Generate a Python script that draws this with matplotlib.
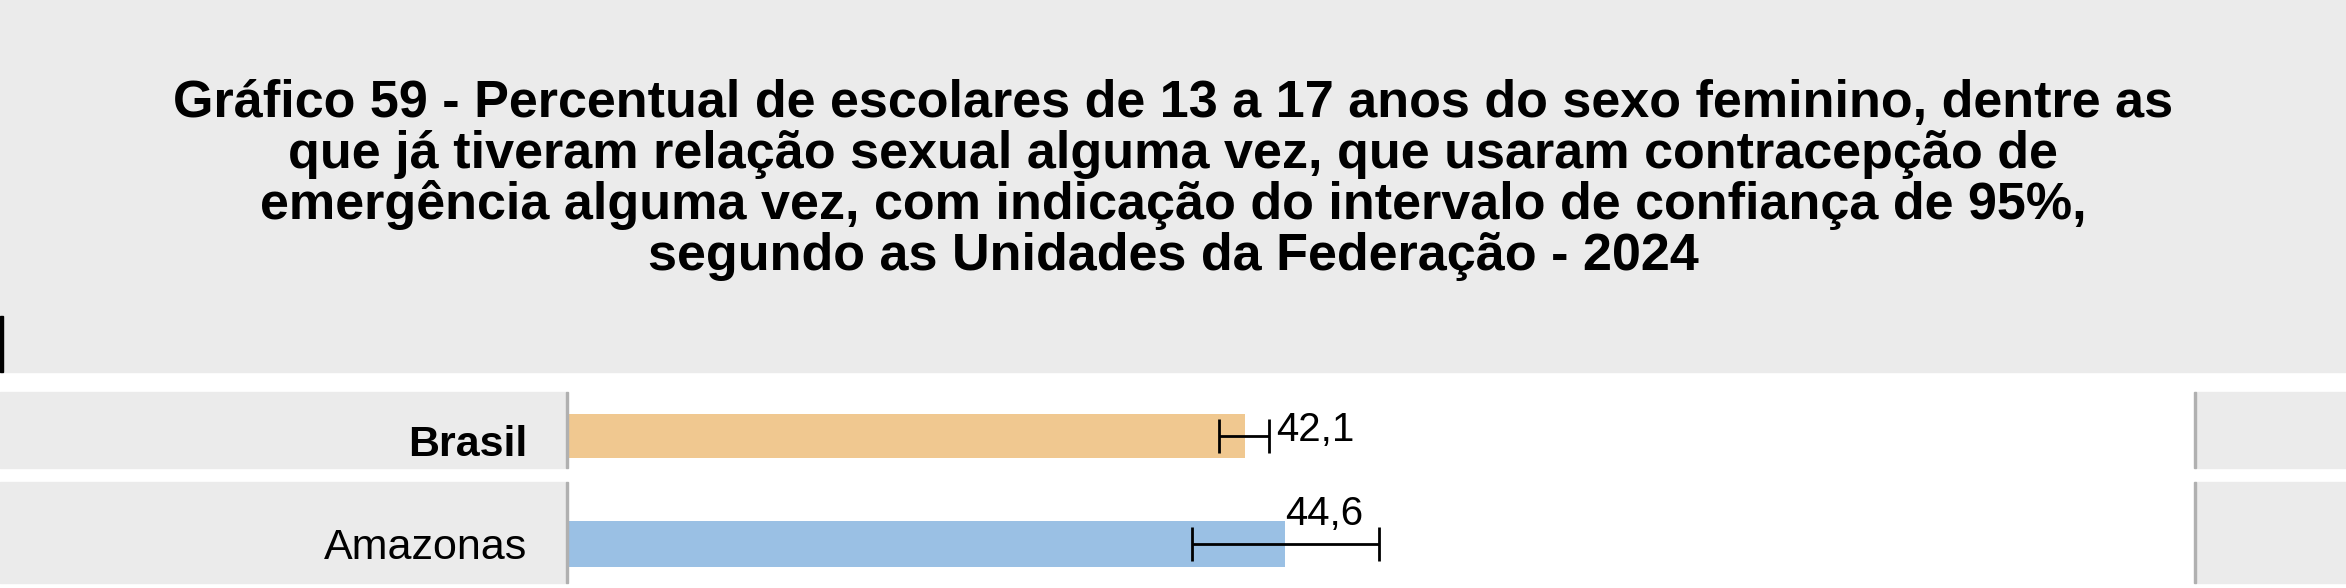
import matplotlib.pyplot as plt
from matplotlib.patches import Rectangle

W, H = 2346, 588

title = ("Gráfico 59 - Percentual de escolares de 13 a 17 anos do sexo feminino, dentre as\n"
         "que já tiveram relação sexual alguma vez, que usaram contracepção de\n"
         "emergência alguma vez, com indicação do intervalo de confiança de 95%,\n"
         "segundo as Unidades da Federação - 2024")
categories = ["Brasil", "Amazonas"]
values = [42.1, 44.6]
ci_low = [40.5, 38.8]
ci_high = [43.6, 50.4]
colors = ["#f0c890", "#9ac0e4"]
label_text = ["42,1", "44,6"]

fig = plt.figure(figsize=(W / 100, H / 100), dpi=100)
fig.patch.set_facecolor("white")

def px_rect(x0, y0, x1, y1, color, z=0):
    # y in pixels from top
    fig.patches.append(Rectangle((x0 / W, 1 - y1 / H), (x1 - x0) / W, (y1 - y0) / H,
                                 transform=fig.transFigure, color=color, zorder=z))

gray = "#ebebeb"
px_rect(0, 0, W, 372, gray)
px_rect(0, 316, 3, 372, "black", 1)
# row panels
rows = [(392, 468), (482, 583)]
for y0, y1 in rows:
    px_rect(0, y0, 566, y1, gray)
    px_rect(2195, y0, W, y1, gray)
    px_rect(566, y0, 568, y1, "#b0b0b0", 1)
    px_rect(2194, y0, 2196, y1, "#b0b0b0", 1)

fig.text(0.5, 1 - 180 / H, title, ha="center", va="center", fontsize=37.5,
         fontweight="bold", family=["Liberation Sans", "DejaVu Sans"], linespacing=1.05)

# bars: axes spans x 566..2195 px, y 392..583 px
ax = fig.add_axes([566 / W, 1 - 583 / H, (2195 - 566) / W, (583 - 392) / H])
ax.set_xlim(0, 101)
ax.set_ylim(583, 392)
ax.axis("off")
font = ["Liberation Sans Narrow", "Liberation Sans"]
bar_y = [(414, 458), (521, 567)]
label_y = [445, 548]
for i, cat in enumerate(categories):
    y0, y1 = bar_y[i]
    yc = (y0 + y1) / 2
    ax.barh(yc, values[i], height=y1 - y0, color=colors[i], left=0)
    ax.errorbar(values[i], yc, xerr=[[values[i] - ci_low[i]], [ci_high[i] - values[i]]],
                fmt="none", ecolor="black", elinewidth=2, capsize=12, capthick=2)
    fig.text(527 / W, 1 - label_y[i] / H, cat, ha="right", va="center", fontsize=31,
             fontweight="bold" if i == 0 else "normal", family=font)

ax.text(44.0, 430, label_text[0], ha="left", va="center", fontsize=29, family=font)
ax.text(47.0, 514, label_text[1], ha="center", va="center", fontsize=29, family=font)

fig.savefig("out.png", dpi=100)
